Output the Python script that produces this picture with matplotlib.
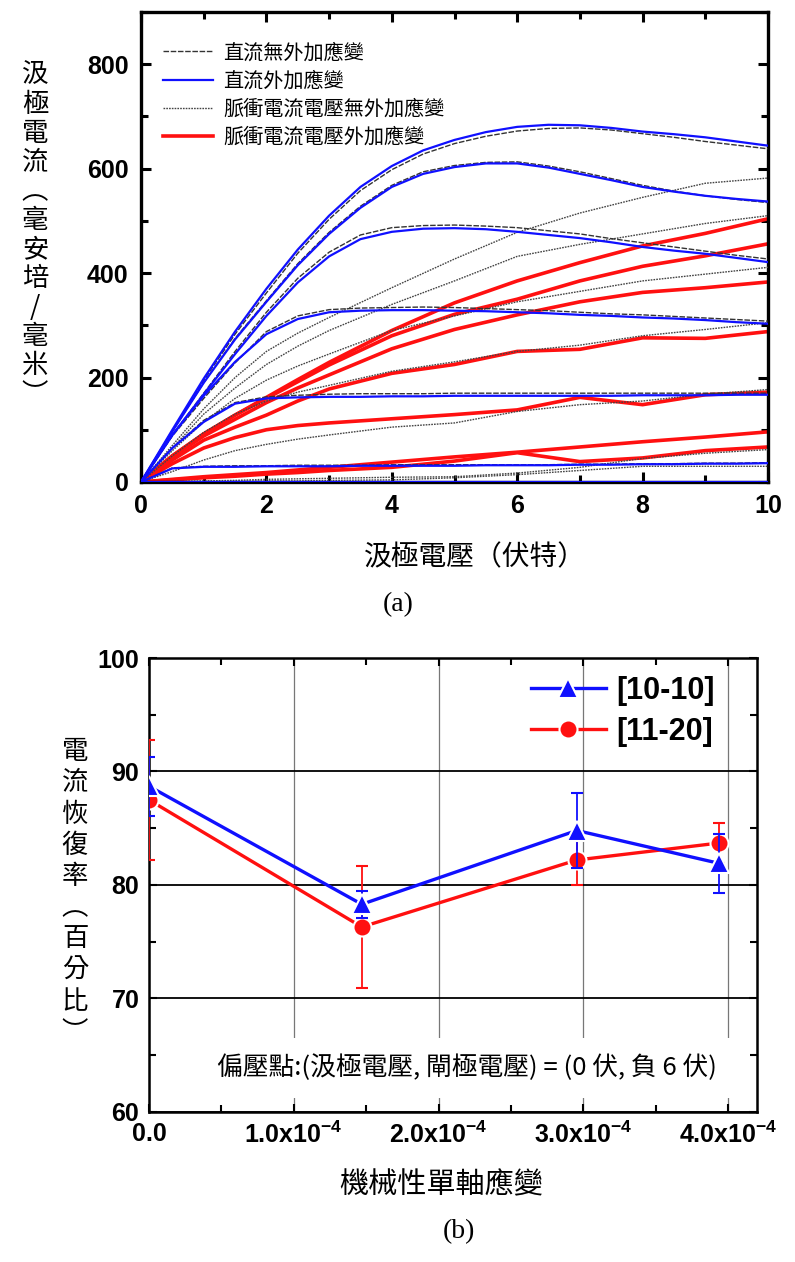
import numpy as np
import matplotlib
matplotlib.use('Agg')
import matplotlib.pyplot as plt
from matplotlib.ticker import MultipleLocator
from matplotlib.lines import Line2D

plt.rcParams['font.family'] = ['Noto Sans CJK TC', 'DejaVu Sans']
plt.rcParams['mathtext.fontset'] = 'custom'
plt.rcParams['mathtext.bf'] = 'Liberation Sans:bold'
plt.rcParams['mathtext.rm'] = 'Liberation Sans:bold'
plt.rcParams['mathtext.default'] = 'bf'

# ---- (a) drain current vs drain voltage ----
v_dc = [0, 0.5, 1, 1.5, 2, 2.5, 3, 3.5, 4, 4.5, 5, 5.5, 6, 6.5, 7, 7.5, 8, 8.5, 9, 9.5, 10]
# DC, with strain (blue)
dc_strain = [
    [0, 100, 198, 288, 370, 445, 510, 565, 605, 635, 655, 670, 680, 684, 683, 678, 671, 666, 660, 652, 644],
    [0, 97, 190, 273, 345, 415, 475, 525, 565, 590, 603, 610, 610, 602, 590, 578, 565, 556, 548, 542, 537],
    [0, 90, 168, 245, 318, 382, 432, 465, 479, 485, 486, 484, 479, 473, 467, 459, 450, 443, 437, 429, 421],
    [0, 90, 165, 230, 283, 312, 325, 328, 329, 329, 328, 327, 325, 323, 320, 318, 315, 313, 310, 306, 303],
    [0, 65, 115, 150, 160, 162, 163, 163, 164, 164, 165, 165, 165, 165, 165, 165, 166, 166, 166, 167, 167],
    [0, 26, 29, 29, 30, 30, 30, 31, 31, 31, 31, 32, 32, 32, 33, 33, 34, 34, 35, 35, 36],
    [0, 0, 0, 0, 0, 0, 0, 0, 0, 0, 0, 0, 0, 0, 0, 0, 0, 0, 0, 0, 0],
]
# DC, no strain (black dashed)
dc_nostrain = [
    [0, 98, 195, 283, 362, 438, 503, 558, 598, 628, 648, 662, 672, 677, 678, 674, 667, 660, 652, 645, 638],
    [0, 97, 190, 275, 347, 418, 478, 528, 568, 594, 606, 612, 613, 605, 594, 581, 568, 557, 548, 541, 535],
    [0, 90, 170, 250, 325, 390, 440, 473, 487, 491, 492, 490, 487, 481, 475, 466, 458, 450, 442, 434, 427],
    [0, 88, 160, 228, 288, 318, 330, 333, 334, 335, 334, 332, 330, 328, 325, 322, 320, 317, 314, 311, 308],
    [0, 65, 118, 152, 163, 166, 168, 169, 169, 169, 170, 170, 170, 170, 170, 170, 170, 170, 170, 170, 170],
    [0, 27, 30, 31, 31, 32, 32, 32, 33, 33, 33, 33, 33, 33, 34, 34, 35, 35, 36, 36, 37],
]
v_pulse = [0, 0.5, 1, 1.5, 2, 2.5, 3, 4, 5, 6, 7, 8, 9, 10]
# pulsed, no strain (gray dotted)
pulse_nostrain = [
    [0, 70, 140, 200, 250, 285, 315, 372, 427, 478, 515, 545, 572, 582],
    [0, 65, 130, 180, 225, 260, 290, 340, 385, 432, 455, 475, 495, 510],
    [0, 60, 115, 160, 195, 222, 245, 290, 318, 345, 365, 385, 398, 411],
    [0, 50, 95, 130, 155, 172, 185, 212, 230, 250, 262, 280, 292, 305],
    [0, 20, 42, 60, 72, 82, 90, 105, 113, 135, 148, 155, 168, 177],
    [0, 1, 2, 3, 5, 6, 7, 9, 10, 17, 28, 45, 55, 62],
    [0, 0, 1, 1, 2, 2, 3, 4, 8, 14, 22, 30, 30, 30],
]
# pulsed, with strain (red)
pulse_strain = [
    [0, 50, 92, 128, 162, 196, 229, 290, 343, 385, 420, 452, 476, 504],
    [0, 50, 92, 128, 160, 192, 224, 280, 321, 350, 385, 413, 433, 456],
    [0, 48, 88, 120, 152, 180, 205, 255, 292, 320, 345, 363, 372, 383],
    [0, 42, 80, 105, 128, 155, 178, 208, 225, 250, 254, 276, 275, 288],
    [0, 35, 65, 85, 100, 108, 113, 121, 129, 138, 162, 148, 167, 172],
    [0, 5, 10, 14, 18, 23, 28, 38, 48, 57, 67, 77, 86, 96],
    [0, 4, 8, 11, 15, 18, 22, 28, 40, 56, 39, 46, 60, 67],
]
legend_a = ['直流無外加應變', '直流外加應變', '脈衝電流電壓無外加應變', '脈衝電流電壓外加應變']

# ---- (b) current recovery vs strain ----
strain = [0.0, 1.47e-4, 2.955e-4, 3.94e-4]
rec_1010 = [88.7, 78.3, 84.8, 81.9]
err_1010 = [2.6, 1.2, 3.3, 2.6]
rec_1120 = [87.5, 76.3, 82.2, 83.7]
err_1120 = [5.3, 5.4, 2.2, 1.8]
legend_b = ['[10-10]', '[11-20]']
strain_ticks = [0, 1e-4, 2e-4, 3e-4, 4e-4]
strain_labels = ['0.0', '1.0x10$^{-4}$', '2.0x10$^{-4}$', '3.0x10$^{-4}$', '4.0x10$^{-4}$']

BLUE = '#1010ff'
RED = '#ff1010'

fig = plt.figure(figsize=(7.95, 12.62), dpi=100)
ax1 = fig.add_axes([0.1774, 0.6181, 0.7886, 0.3724])
ax2 = fig.add_axes([0.1874, 0.1189, 0.7648, 0.3597])

for r in pulse_strain:
    ax1.plot(v_pulse, r, color=RED, lw=2.6, zorder=2)
for p in pulse_nostrain:
    ax1.plot(v_pulse, p, color='#444444', lw=1.0, ls=(0, (1.2, 0.8)), zorder=3)
for k in dc_nostrain:
    ax1.plot(v_dc, k, color='#333333', lw=1.0, ls=(0, (4, 1.2)), zorder=3)
for b in dc_strain:
    ax1.plot(v_dc, b, color=BLUE, lw=1.6, zorder=4)

handles_a = [
    Line2D([], [], color='#333333', lw=1.0, ls=(0, (4, 1.2))),
    Line2D([], [], color=BLUE, lw=1.6),
    Line2D([], [], color='#444444', lw=1.0, ls=(0, (1.2, 0.8))),
    Line2D([], [], color=RED, lw=2.6),
]
ax1.legend(handles_a, legend_a, loc='upper left', bbox_to_anchor=(0.035, 0.935),
           frameon=False, fontsize=14.5, handlelength=2.5, handletextpad=0.5,
           labelspacing=0.35, borderpad=0, borderaxespad=0)

ax1.set_xlim(0, 10)
ax1.set_ylim(0, 900)
ax1.xaxis.set_major_locator(MultipleLocator(2))
ax1.xaxis.set_minor_locator(MultipleLocator(1))
ax1.set_yticks([0, 200, 400, 600, 800])
ax1.yaxis.set_minor_locator(MultipleLocator(100))
ax1.tick_params(which='both', direction='in', top=True, right=True, width=2.2,
                labelsize=18, pad=9)
ax1.tick_params(which='major', length=7)
ax1.tick_params(which='minor', length=5)
for s in ax1.spines.values():
    s.set_linewidth(2.4)

# ---- panel b ----
ax2.set_axisbelow(True)
ax2.yaxis.grid(True, color='black', lw=1.3)
ax2.xaxis.grid(True, color='#777777', lw=0.9)
ax2.errorbar(strain, rec_1010, yerr=err_1010, color=BLUE, lw=2.4, marker='^', ms=14,
             mec='white', mew=1.5, elinewidth=1.3, capsize=4.5, capthick=1.3, zorder=4)
ax2.errorbar(strain, rec_1120, yerr=err_1120, color=RED, lw=2.4, marker='o', ms=13,
             mec='white', mew=1.5, elinewidth=1.3, capsize=4.5, capthick=1.3, zorder=3)

handles_b = [
    Line2D([], [], color=BLUE, lw=2.4, marker='^', ms=14, mec='white', mew=1.5),
    Line2D([], [], color=RED, lw=2.4, marker='o', ms=13, mec='white', mew=1.5),
]
ax2.legend(handles_b, legend_b, loc='upper right', bbox_to_anchor=(0.931, 0.96),
           frameon=False, handlelength=2.45, handletextpad=0.35, labelspacing=0.35,
           borderpad=0, borderaxespad=0, numpoints=1,
           prop={'family': 'Liberation Sans', 'weight': 'bold', 'size': 22})

ax2.text(0.523, 0.097, '偏壓點:(汲極電壓, 閘極電壓) = (0 伏, 負 6 伏)', transform=ax2.transAxes,
         ha='center', va='center', fontsize=18.5, zorder=5,
         bbox=dict(boxstyle='square,pad=0.65', facecolor='white', edgecolor='none'))

ax2.set_xlim(0, 4.2e-4)
ax2.set_ylim(60, 100)
ax2.set_xticks(strain_ticks, strain_labels)
ax2.xaxis.set_minor_locator(MultipleLocator(0.5e-4))
ax2.yaxis.set_major_locator(MultipleLocator(10))
ax2.yaxis.set_minor_locator(MultipleLocator(5))
ax2.tick_params(which='both', direction='in', top=True, right=True, width=1.5,
                labelsize=18, pad=7)
ax2.tick_params(which='major', length=6)
ax2.tick_params(which='minor', length=5)
for s in ax2.spines.values():
    s.set_linewidth(1.8)

for ax in (ax1, ax2):
    for lbl in ax.get_xticklabels() + ax.get_yticklabels():
        lbl.set_fontfamily(['Liberation Sans', 'DejaVu Sans'])
        lbl.set_fontweight('bold')

# axis titles drawn as stacked / free text
fig.text(35 / 795, 1 - 235 / 1262, '\n'.join('汲極電流︵毫安培/毫米︶'),
         ha='center', va='center', fontsize=19, linespacing=1.1)
fig.text(475 / 795, 1 - 557 / 1262, '汲極電壓（伏特）', ha='center', va='center', fontsize=20)
fig.text(398 / 795, 1 - 605 / 1262, '(a)', ha='center', va='center', fontsize=20,
         family='Liberation Serif')
fig.text(75 / 795, 1 - 892 / 1262, '\n'.join('電流恢復率︵百分比︶'),
         ha='center', va='center', fontsize=19, linespacing=1.2)
fig.text(441 / 795, 1 - 1185 / 1262, '機械性單軸應變', ha='center', va='center', fontsize=21)
fig.text(459 / 795, 1 - 1232 / 1262, '(b)', ha='center', va='center', fontsize=20,
         family='Liberation Serif')

fig.savefig('out.png', dpi=100)
